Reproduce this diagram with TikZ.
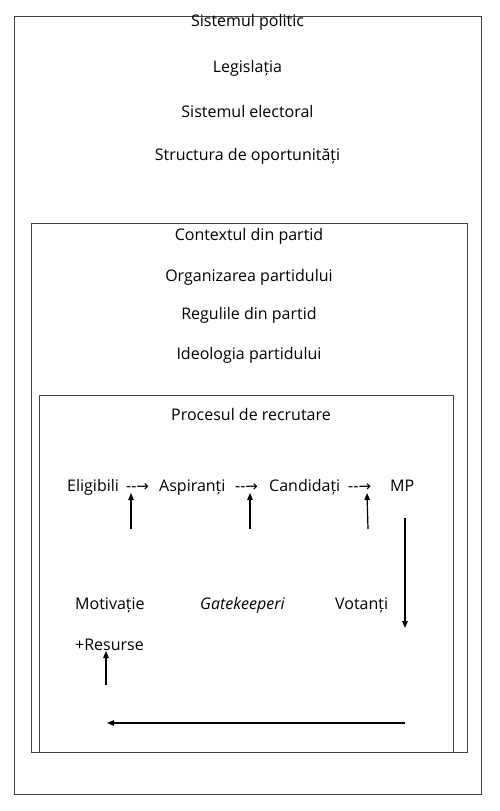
\documentclass[tikz,border=0pt]{standalone}
\usepackage{fontspec}
\setmainfont{Open Sans}
\newfontfamily\arrowfont{DejaVu Sans}
\usetikzlibrary{arrows.meta}
\tikzset{
  frame/.style={draw=black!75, line width=0.9pt},
  lbl/.style={inner sep=0pt, font=\fontsize{16}{19}\selectfont},
  lblc/.style={lbl, anchor=base},
  lblw/.style={lbl, anchor=base west},
  flow/.style={draw=black, line width=1.2pt, -{Triangle[length=7pt,width=5.5pt]}}
}
\newcommand{\dashto}{-{}-{\arrowfont\fontsize{15}{17}\selectfont →}}
\begin{document}
\begin{tikzpicture}[x=1pt,y=-1pt]
\useasboundingbox (0,0) rectangle (500,811);
% frames
\draw[frame] (14,16) rectangle (481,794);
\draw[frame] (31,223) rectangle (467,752);
\draw[frame] (39,395) rectangle (453,752);
% outer texts
\node[lblc] (t1) at (247.5,26) {Sistemul politic};
\node[lblc] (t2) at (247.5,72.5) {Legislația};
\node[lblc] (t3) at (247.5,117) {Sistemul electoral};
\node[lblc] (t4) at (247.5,160.5) {Structura de oportunități};
% middle texts
\node[lblc] (m1) at (249,240) {Contextul din partid};
\node[lblc] (m2) at (249,281) {Organizarea partidului};
\node[lblc] (m3) at (249,319) {Regulile din partid};
\node[lblc] (m4) at (249,359) {Ideologia partidului};
% inner
\node[lblc] (p0) at (251,420) {Procesul de recrutare};
\node[lblw] (e1) at (67,491) {Eligibili};
\node[lblw] (d1) at (126,491) {\dashto};
\node[lblw] (e2) at (159,491) {Aspiranți};
\node[lblw] (d2) at (235,491) {\dashto};
\node[lblw] (e3) at (269,491) {Candidați};
\node[lblw] (d3) at (348,491) {\dashto};
\node[lblw] (e4) at (390,491) {MP};
\node[lblw] (f1) at (75,609) {Motivație};
\node[lblw] (f2) at (200,609) {\itshape Gatekeeperi};
\node[lblw] (f3) at (335,609) {Votanți};
\node[lblw] (f4) at (75,650) {+Resurse};
% arrow coordinates
\coordinate (a1s) at (131,529); \coordinate (a1e) at (131,493);
\coordinate (a2s) at (250,529); \coordinate (a2e) at (250,493);
\coordinate (a3s) at (368,529); \coordinate (a3e) at (367,493);
\coordinate (dns) at (405,518); \coordinate (dne) at (405,628);
\coordinate (ups) at (106,685); \coordinate (upe) at (106,651);
\coordinate (lts) at (405,723); \coordinate (lte) at (107,723);
\draw[flow] (a1s) -- (a1e);
\draw[flow] (a2s) -- (a2e);
\draw[flow] (a3s) -- (a3e);
\draw[flow] (dns) -- (dne);
\draw[flow] (ups) -- (upe);
\draw[flow] (lts) -- (lte);
\end{tikzpicture}
\end{document}
